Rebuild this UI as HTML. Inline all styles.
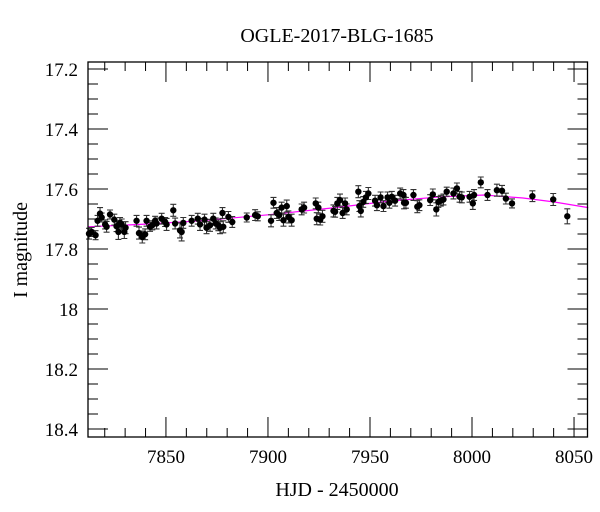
<!DOCTYPE html>
<html><head><meta charset="utf-8"><style>
html,body{margin:0;padding:0;background:#fff;}
svg{display:block;font-family:"Liberation Serif",serif;}
</style></head><body>
<svg id="chart" width="600" height="512" viewBox="0 0 600 512">
<text x="337" y="42" font-size="20" text-anchor="middle">OGLE-2017-BLG-1685</text>
<text x="337" y="496" font-size="20" text-anchor="middle">HJD - 2450000</text>
<text x="0" y="0" font-size="20" text-anchor="middle" transform="translate(27,250) rotate(-90)">I magnitude</text>
<g id="marks"></g>
<rect x="88" y="62" width="499.5" height="375" fill="none" stroke="#000" stroke-width="1.3"/>
</svg>
<script>
const days = [7812.3,7813.6,7815.5,7816.5,7817.7,7818.5,7820.2,7820.9,7822.6,7824.7,7825.8,7826.7,7827.5,7828.3,7829.6,7830.2,7835.6,7836.8,7838.4,7839.8,7840.5,7842.2,7843.3,7844.7,7845.4,7847.9,7849.6,7850.3,7853.6,7854.5,7856.9,7857.7,7858.5,7862.6,7865.6,7866.7,7868.9,7869.9,7871.6,7873.2,7874.4,7875.7,7876.5,7877.7,7878.1,7880.6,7882.5,7889.6,7893.7,7895.0,7901.5,7902.7,7904.3,7905.5,7906.7,7907.6,7909.2,7910.0,7911.6,7916.5,7917.7,7923.4,7923.9,7924.7,7925.6,7926.7,7932.1,
7932.9,7934.0,7935.3,7936.6,7937.8,7938.6,7944.3,7944.8,7945.5,7946.7,7948.0,7949.2,7952.5,7953.4,7955.2,7956.6,7958.6,7959.5,7960.7,7962.3,7964.8,7966.4,7966.7,7967.6,7971.3,7973.2,7974.2,7979.5,7980.8,7982.5,7983.5,7984.7,7986.0,7987.6,7990.9,7992.6,7993.9,7995.0,7998.8,8000.4,8001.0,8004.3,8007.6,8012.2,8014.7,8016.6,8019.6,8029.6,8039.8,8046.7];
const mags = [17.749,17.743,17.754,17.706,17.682,17.695,17.718,17.726,17.685,17.702,17.724,17.743,17.713,17.718,17.743,17.729,17.706,17.747,17.760,17.751,17.706,17.726,17.721,17.706,17.715,17.699,17.710,17.718,17.671,17.715,17.738,17.743,17.713,17.706,17.699,17.718,17.702,17.729,17.721,17.699,17.715,17.721,17.729,17.680,17.726,17.693,17.710,17.695,17.687,17.691,17.706,17.646,17.680,17.687,17.662,17.704,17.657,17.693,17.704,17.668,17.662,17.648,17.699,17.662,17.702,17.691,17.673,
17.676,17.648,17.637,17.680,17.648,17.668,17.609,17.657,17.673,17.643,17.628,17.615,17.639,17.654,17.628,17.657,17.628,17.646,17.626,17.639,17.615,17.620,17.646,17.646,17.620,17.659,17.654,17.637,17.618,17.668,17.643,17.639,17.635,17.609,17.615,17.598,17.626,17.628,17.626,17.648,17.620,17.578,17.620,17.604,17.606,17.632,17.648,17.624,17.635,17.691];
const errs = [0.018,0.015,0.015,0.018,0.02,0.015,0.015,0.018,0.015,0.018,0.018,0.025,0.018,0.018,0.022,0.02,0.018,0.02,0.02,0.018,0.018,0.015,0.015,0.015,0.018,0.018,0.015,0.02,0.02,0.018,0.025,0.03,0.018,0.018,0.018,0.02,0.018,0.02,0.02,0.018,0.018,0.018,0.02,0.018,0.02,0.018,0.018,0.015,0.018,0.015,0.02,0.018,0.018,0.018,0.018,0.02,0.02,0.02,0.02,0.018,0.018,0.018,0.02,0.018,0.018,0.02,0.02,
0.018,0.02,0.02,0.018,0.018,0.018,0.02,0.018,0.02,0.018,0.02,0.02,0.018,0.018,0.018,0.018,0.018,0.018,0.018,0.018,0.018,0.018,0.02,0.018,0.018,0.02,0.018,0.018,0.018,0.022,0.018,0.018,0.018,0.015,0.018,0.018,0.018,0.018,0.018,0.02,0.018,0.018,0.018,0.02,0.018,0.018,0.015,0.018,0.02,0.025];
const modelDays = [7811.8,7840,7867,7900,7933,7960,7985,8006,8025,8040,8057];
const modelMags = [17.726,17.717,17.706,17.686,17.662,17.640,17.626,17.620,17.630,17.643,17.662];
const xTicks = [7850,7900,7950,8000,8050];
const yTicks = [17.2,17.4,17.6,17.8,18,18.2,18.4];
const yTickLabels = ["17.2","17.4","17.6","17.8","18","18.2","18.4"];

const X0=88,X1=587.5,Y0=62,Y1=437;
const D0=7811.8,D1=8056.6,M0=17.1767,M1=18.4267;
function sx(d){return X0+(d-D0)/(D1-D0)*(X1-X0);}
function sy(m){return Y0+(m-M0)/(M1-M0)*(Y1-Y0);}
const NS="http://www.w3.org/2000/svg";
const g=document.getElementById('marks');
function mk(tag,attrs,parent){const e=document.createElementNS(NS,tag);for(const k in attrs)e.setAttribute(k,attrs[k]);(parent||g).appendChild(e);return e;}

const tg=mk('g',{stroke:'#000','stroke-width':'1'});


for(let d=7820;d<=8056;d+=10){
  const x=sx(d);const major=(d%50===0);const L=major?20:9;
  mk('line',{x1:x,y1:Y1,x2:x,y2:Y1-L},tg);
  mk('line',{x1:x,y1:Y0,x2:x,y2:Y0+L},tg);
}
for(let i=0;i<=24;i++){
  const m=17.2+i*0.05;const y=sy(m);const L=(i%4===0)?20:10;
  mk('line',{x1:X0,y1:y,x2:X0+L,y2:y},tg);
  mk('line',{x1:X1,y1:y,x2:X1-L,y2:y},tg);
}
xTicks.forEach(function(d){
  const t=mk('text',{x:sx(d),y:463,'font-size':'19','text-anchor':'middle'});
  t.textContent=String(d);
  
  
});
yTicks.forEach(function(m,i){
  const t=mk('text',{x:78,y:sy(m)+7,'font-size':'19','text-anchor':'end'});
  t.textContent=yTickLabels[i];
  
  
});

let dstr='';
modelDays.forEach(function(d,i){dstr+=(i?'L':'M')+sx(d).toFixed(1)+' '+sy(modelMags[i]).toFixed(1);});
const ml=mk('path',{d:dstr,fill:'none',stroke:'#ff00ff','stroke-width':'1.2'});



days.forEach(function(d,i){
  const x=sx(d),y=sy(mags[i]),e=errs[i]*(Y1-Y0)/(M1-M0);
  const eb=mk('path',{d:'M'+x+' '+(y-e)+'V'+(y+e)+'M'+(x-3)+' '+(y-e)+'H'+(x+3)+'M'+(x-3)+' '+(y+e)+'H'+(x+3),stroke:'#333','stroke-width':'1.1',fill:'none'});
  
  
});
days.forEach(function(d,i){
  const c=mk('circle',{cx:sx(d),cy:sy(mags[i]),r:3.2,fill:'#000'});
  
  
});
</script>
</body></html>
